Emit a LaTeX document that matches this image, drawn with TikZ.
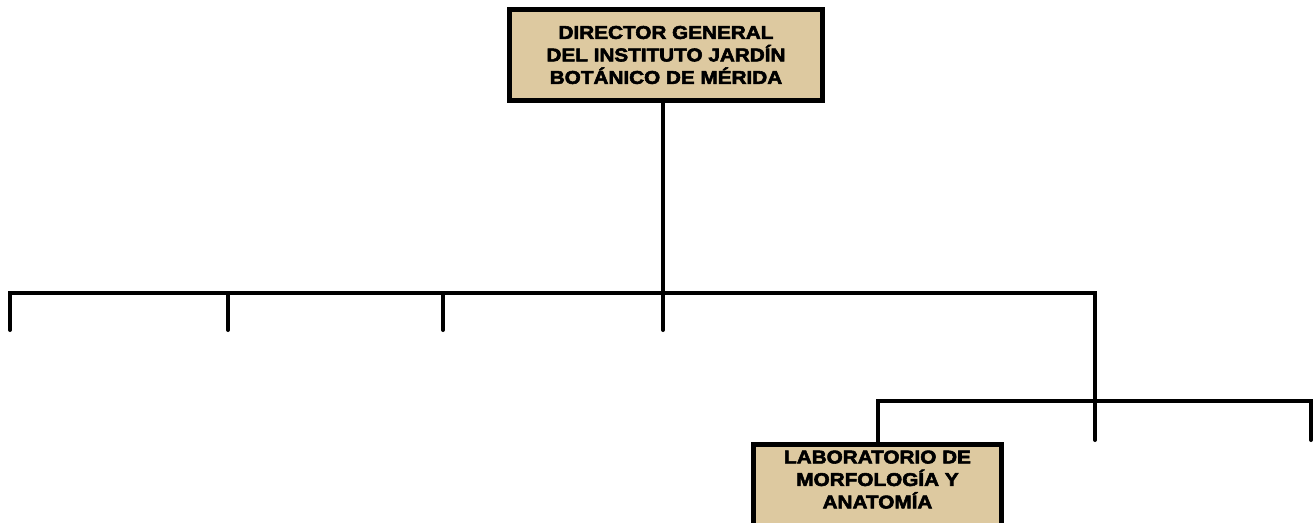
\documentclass[tikz,border=0pt]{standalone}
\usepackage{fontspec}
\setmainfont{Liberation Sans}
\newfontfamily\boxfont[FakeBold=3,FakeStretch=1.12]{Liberation Sans Bold}
\definecolor{tan}{HTML}{DDC9A0}
\begin{document}
\begin{tikzpicture}[x=1pt,y=-1pt,
  orgbox/.style={draw=black,line width=5pt,fill=tan,inner sep=0pt,align=center,
    font=\boxfont\fontsize{18.5}{22.5}\selectfont},
  conn/.style={line width=4pt,line cap=round,line join=miter}]
\useasboundingbox (0,0) rectangle (1314,522);
\node[orgbox,minimum width=313pt,minimum height=91pt] (dir) at (666,55) {DIRECTOR GENERAL\\DEL INSTITUTO JARDÍN\\BOTÁNICO DE MÉRIDA};
\begin{scope}
\clip (0,0) rectangle (1314,522);
\node[orgbox,minimum width=248pt,minimum height=100pt,anchor=north] (lab) at (877.5,441.5) {};
\end{scope}
\node[font=\boxfont\fontsize{18.5}{22.5}\selectfont,align=center,anchor=north] (labtext) at (877.5,447) {LABORATORIO DE\\MORFOLOGÍA Y\\ANATOMÍA};
\coordinate (j0) at (663,293);
\coordinate (l1) at (10,293);
\coordinate (r1) at (1095,293);
\coordinate (d1) at (10,330);
\coordinate (d2) at (228,330);
\coordinate (d3) at (443,330);
\coordinate (d4) at (663,330);
\coordinate (b1) at (228,293);
\coordinate (b2) at (443,293);
\coordinate (r2) at (1095,440);
\coordinate (h1) at (878,401);
\coordinate (h2) at (1311,401);
\coordinate (d6) at (1311,440);
\draw[conn] (dir.south -| j0) -- (d4);
\draw[conn] (d1) -- (l1) -- (r1) -- (r2);
\draw[conn] (b1) -- (d2);
\draw[conn] (b2) -- (d3);
\draw[conn] (lab.north -| h1) -- (h1) -- (h2) -- (d6);
\end{tikzpicture}
\end{document}
